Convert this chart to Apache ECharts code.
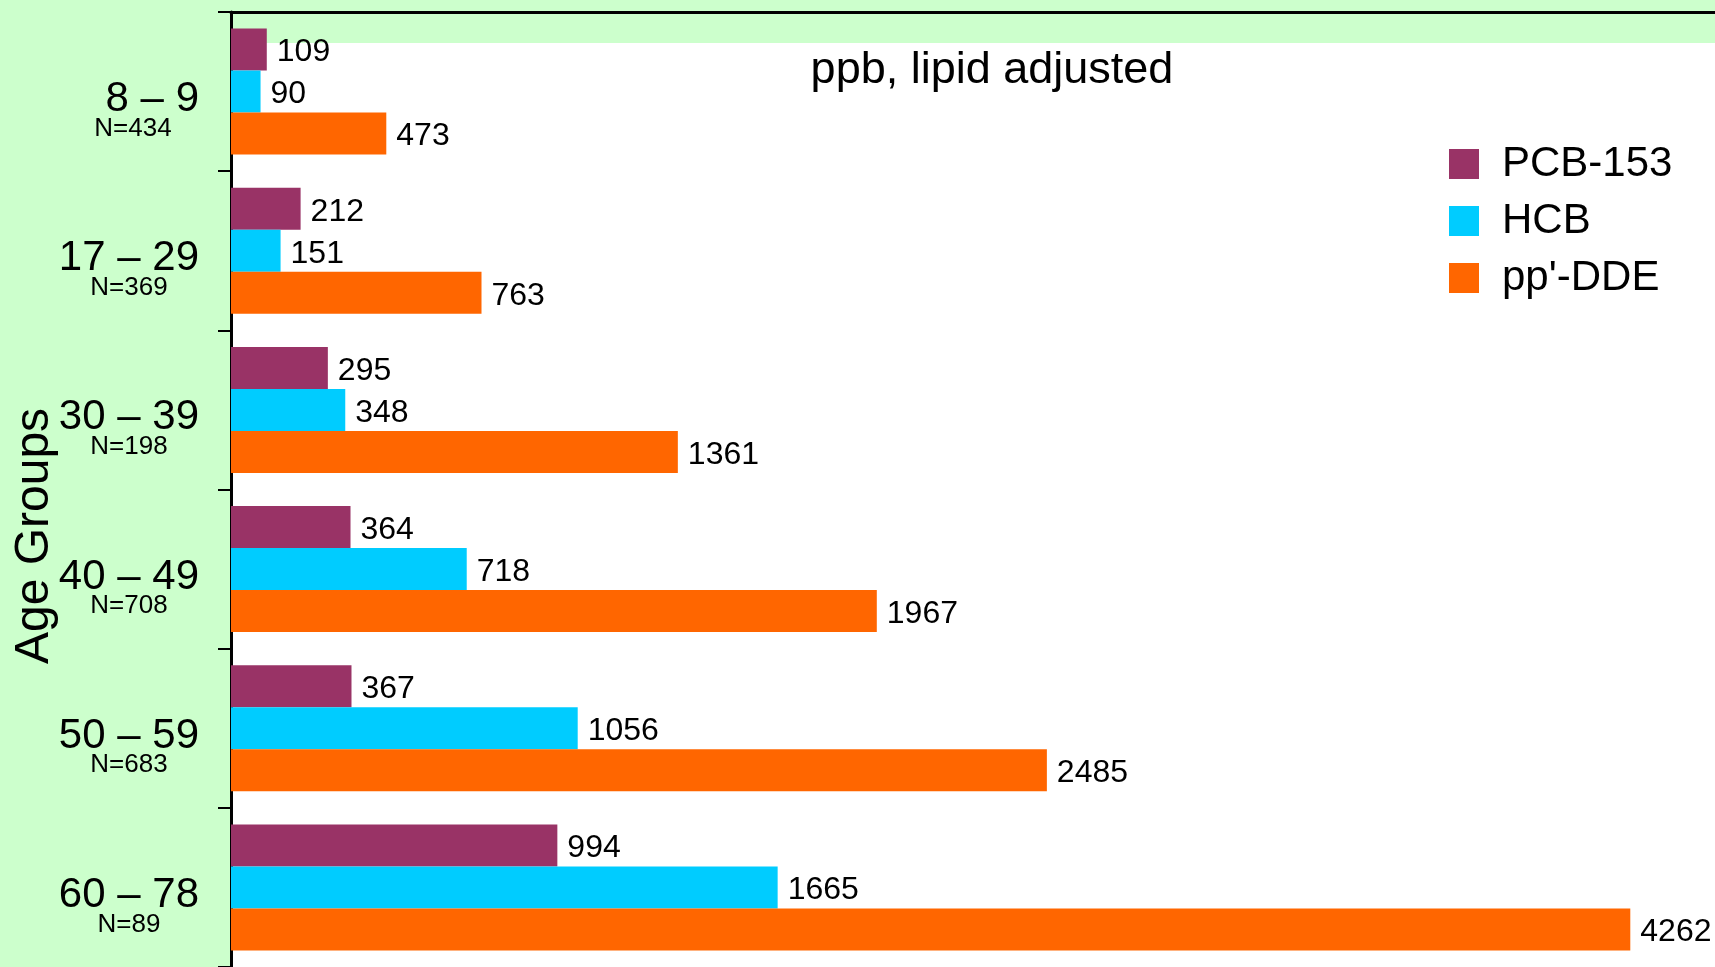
<!DOCTYPE html>
<html>
<head>
<meta charset="utf-8">
<title>Age groups chart</title>
<script src="https://cdn.jsdelivr.net/npm/echarts@6/dist/echarts.min.js"></script>
<style>
  html, body { margin: 0; padding: 0; background: #ccffcc; }
  #chart { width: 1715px; height: 967px; }
</style>
</head>
<body>
<div id="chart"></div>
<script>
const ageGroups = ['8 – 9', '17 – 29', '30 – 39', '40 – 49', '50 – 59', '60 – 78']
const groupSizes = ['N=434', 'N=369', 'N=198', 'N=708', 'N=683', 'N=89']
const pcb153 = [109, 212, 295, 364, 367, 994]
const hcb = [90, 151, 348, 718, 1056, 1665]
const ppDde = [473, 763, 1361, 1967, 2485, 4262]

const font = 'Liberation Sans, Arial, sans-serif'

const labelStyle = {
  show: true,
  position: 'right',
  distance: 10,
  offset: [0, 3],
  color: '#000',
  fontSize: 32,
  fontFamily: font,
}

const makeSeries = (name, data, color) => ({
  name,
  type: 'bar',
  data,
  barWidth: 42,
  barGap: '0%',
  itemStyle: { color },
  label: labelStyle,
})

const chart = echarts.init(document.getElementById('chart'))

chart.setOption({
  backgroundColor: '#ccffcc',
  animation: false,
  textStyle: { fontFamily: font },
  grid: { left: 231, top: 12, width: 1484, height: 958 },
  graphic: [
    {
      type: 'rect',
      z: -1,
      shape: { x: 232, y: 43, width: 1483, height: 924 },
      style: { fill: '#ffffff' },
      silent: true,
    },
    {
      type: 'text',
      x: 992,
      y: 71,
      style: {
        text: 'ppb, lipid adjusted',
        fill: '#000',
        font: '45px ' + font,
        align: 'center',
        verticalAlign: 'middle',
      },
    },
    {
      type: 'text',
      x: 35,
      y: 536,
      rotation: Math.PI / 2,
      style: {
        text: 'Age Groups',
        fill: '#000',
        font: '48px ' + font,
        align: 'center',
        verticalAlign: 'middle',
      },
    },
  ],
  legend: {
    orient: 'vertical',
    left: 1444,
    top: 138,
    itemWidth: 30,
    itemHeight: 30,
    itemGap: 15,
    icon: 'rect',
    data: ['PCB-153', 'HCB', "pp'-DDE"],
    textStyle: {
      fontSize: 42,
      lineHeight: 42,
      color: '#000',
      fontFamily: font,
      padding: [0, 0, 0, 18],
    },
  },
  xAxis: {
    type: 'value',
    position: 'top',
    min: 0,
    max: 4520,
    axisLine: { show: true, lineStyle: { color: '#000', width: 3 } },
    axisTick: { show: false },
    axisLabel: { show: false },
    splitLine: { show: false },
  },
  yAxis: {
    type: 'category',
    inverse: true,
    data: ageGroups,
    axisLine: { show: true, lineStyle: { color: '#000', width: 3 } },
    axisTick: { show: true, length: 13, lineStyle: { color: '#000', width: 2 } },
    axisLabel: {
      margin: 32,
      padding: [40, 0, 0, 0],
      formatter: (value, index) => `{a|${value}}\n{b|${groupSizes[index]}}`,
      rich: {
        a: { fontSize: 42, lineHeight: 34, color: '#000', fontFamily: font, align: 'right' },
        b: { fontSize: 26, lineHeight: 24, color: '#000', fontFamily: font, width: 132, align: 'center' },
      },
    },
  },
  series: [
    makeSeries('PCB-153', pcb153, '#993366'),
    makeSeries('HCB', hcb, '#00ccff'),
    makeSeries("pp'-DDE", ppDde, '#ff6600'),
  ],
})
</script>
</body>
</html>
